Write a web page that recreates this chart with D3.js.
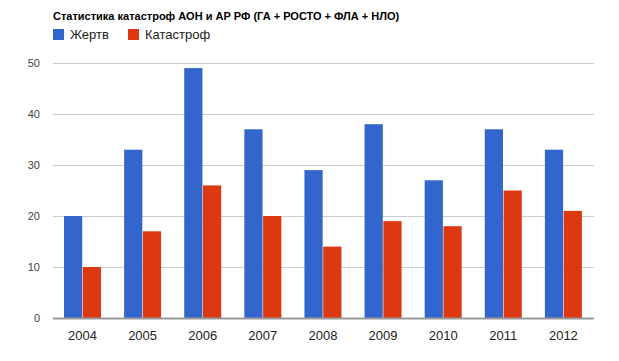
<html>
  <head>
    <meta charset="utf-8">
    <script src="https://d3js.org/d3.v7.min.js"></script>
  <style>
    body { margin: 0; background: #fff; }
    text { font-family: Arial, "Liberation Sans", sans-serif; }
    .gridlines line { stroke: #ccc; }
    .gridlines .domain { stroke: none; }
  </style>
  </head>
  <body>
    <svg id="mainSVG" width="619" height="361"></svg>
  </body>
  <script>
    const years = ["2004", "2005", "2006", "2007", "2008", "2009", "2010", "2011", "2012"];
    const victims = [20, 33, 49, 37, 29, 38, 27, 37, 33];
    const crashes = [10, 17, 26, 20, 14, 19, 18, 25, 21];
    const seriesNames = ["Жертв", "Катастроф"];
    const yTicks = [0, 10, 20, 30, 40, 50];

    const colors = ["#3366cc", "#dc3912"];
    const svg = d3.select("#mainSVG");

    const margin = { top: 63, left: 53, right: 25, bottom: 43 };
    const width = 619 - margin.left - margin.right;
    const height = 361 - margin.top - margin.bottom;

    const g = svg.append("g")
      .attr("transform", `translate(${margin.left},${margin.top})`);

    const x = d3.scaleBand().domain(years).range([0, width]);
    // grouped bars: 37px wide group, 11px in from the band start
    const x1 = d3.scaleBand().domain(seriesNames).range([11, 48]).paddingInner(0.03);
    const y = d3.scaleLinear().domain([0, 50]).range([height, 0]);

    // gridlines
    g.append("g")
      .attr("class", "gridlines")
      .call(d3.axisLeft(y).tickValues(yTicks).tickSize(-width).tickFormat(""));

    // y labels
    g.selectAll("text.ylab")
      .data(yTicks)
      .join("text")
      .attr("class", "ylab")
      .attr("x", -13)
      .attr("y", d => y(d) + 4)
      .attr("text-anchor", "end")
      .attr("font-size", 11)
      .attr("fill", "#444")
      .text(d => d);

    const data = years.map((yr, i) => ({ year: yr, values: [victims[i], crashes[i]] }));

    g.selectAll("g.grp")
      .data(data)
      .join("g")
      .attr("class", "grp")
      .attr("transform", d => `translate(${x(d.year)},0)`)
      .selectAll("rect")
      .data(d => d.values.map((v, j) => ({ key: seriesNames[j], v, j })))
      .join("rect")
      .attr("x", d => x1(d.key))
      .attr("width", x1.bandwidth())
      .attr("y", d => y(d.v))
      .attr("height", d => height - y(d.v))
      .attr("fill", d => colors[d.j]);

    // baseline
    g.append("line")
      .attr("x1", 0).attr("x2", width)
      .attr("y1", height + 0.5).attr("y2", height + 0.5)
      .attr("stroke", "#999").attr("stroke-width", 2);

    // x labels
    g.selectAll("text.xlab")
      .data(years)
      .join("text")
      .attr("class", "xlab")
      .attr("x", d => x(d) + 29.5)
      .attr("y", height + 22)
      .attr("text-anchor", "middle")
      .attr("font-size", 13)
      .attr("fill", "#222")
      .text(d => d);

    // title
    svg.append("text")
      .attr("x", 53).attr("y", 20)
      .attr("font-size", 11)
      .attr("font-weight", "bold")
      .attr("fill", "#000")
      .text("Статистика катастроф АОН и АР РФ (ГА + РОСТО + ФЛА + НЛО)");

    // legend
    const legendX = [53, 128];
    const lg = svg.selectAll("g.leg")
      .data(seriesNames)
      .join("g")
      .attr("class", "leg")
      .attr("transform", (d, i) => `translate(${legendX[i]},29)`);
    lg.append("rect").attr("width", 11).attr("height", 11).attr("fill", (d, i) => colors[i]);
    lg.append("text")
      .attr("x", 17).attr("y", 10)
      .attr("font-size", 13)
      .attr("fill", "#222")
      .text(d => d);
  </script>
</html>
